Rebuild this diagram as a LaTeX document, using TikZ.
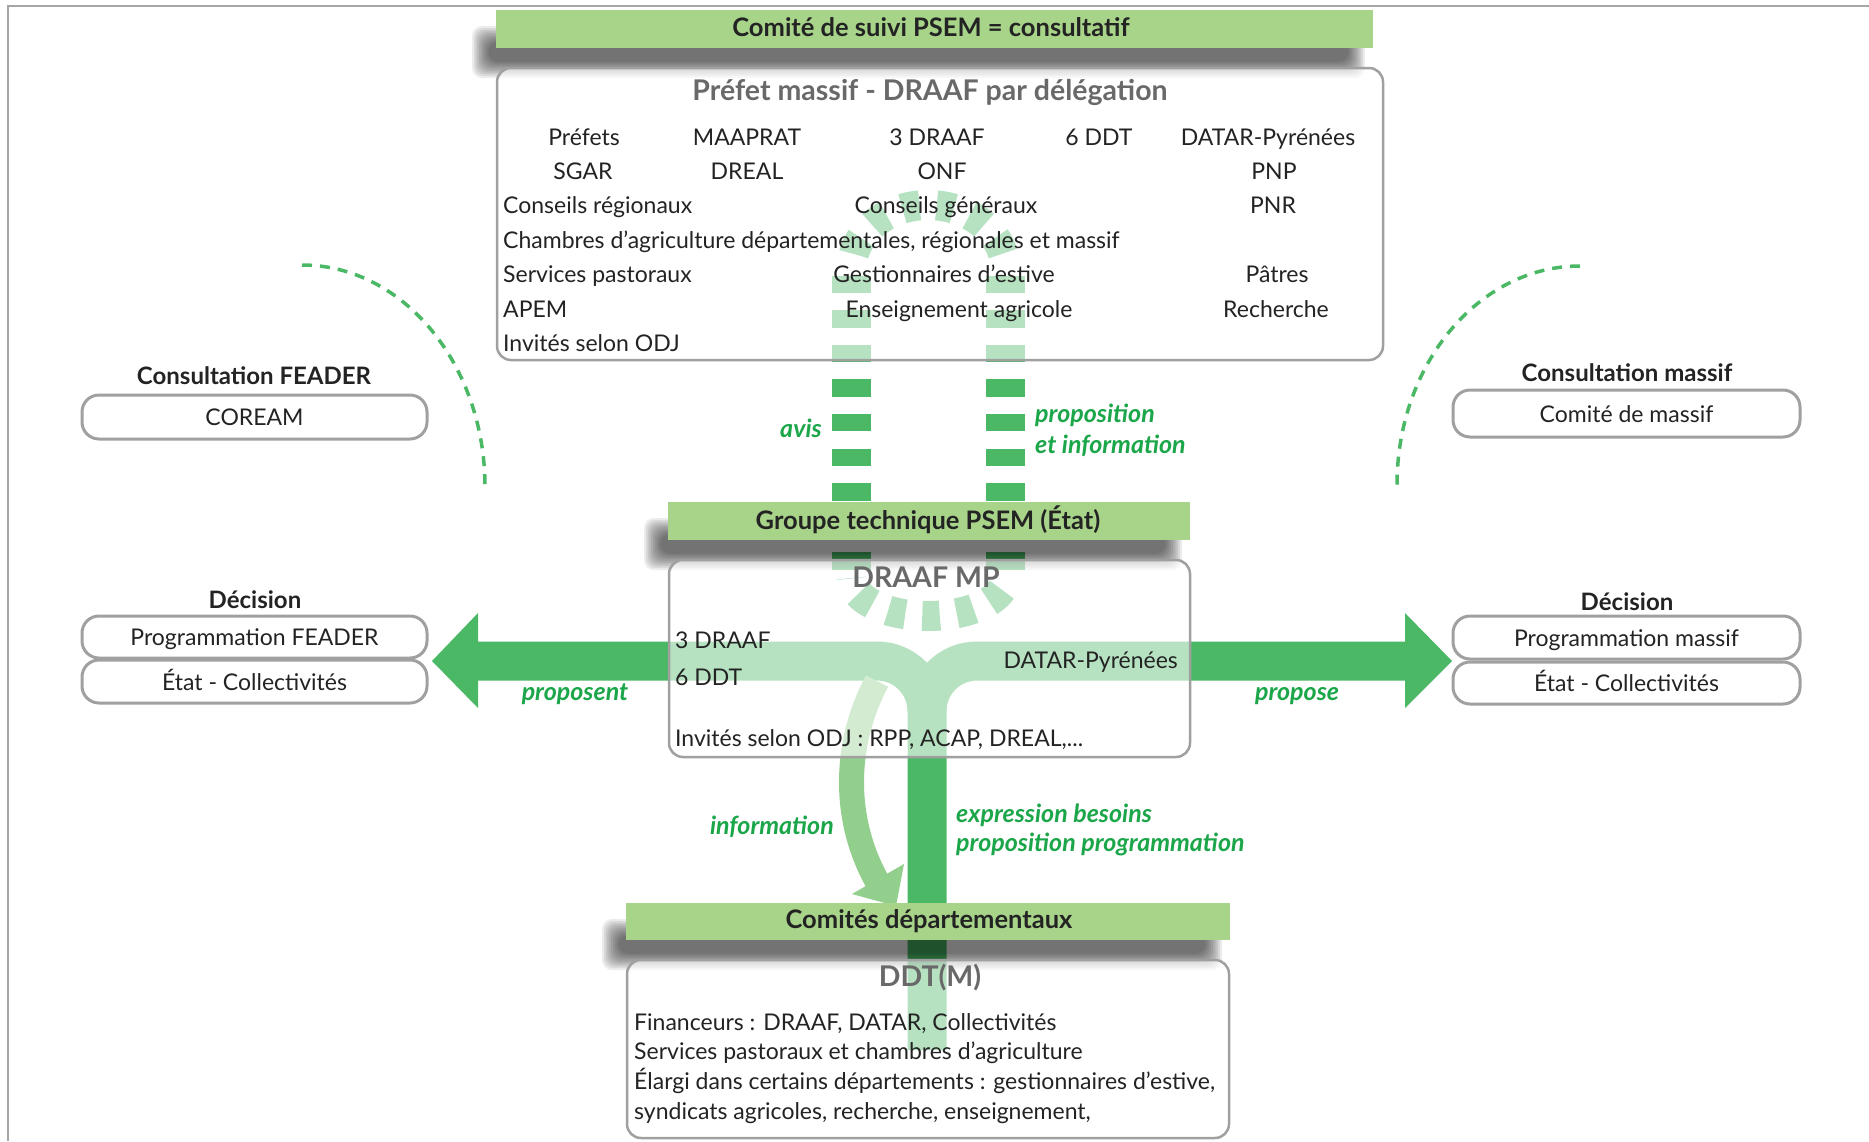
\documentclass[tikz,border=0pt]{standalone}
\usepackage{fontspec}
\setmainfont{Lato}
\definecolor{bargreen}{RGB}{168,212,138}
\definecolor{dgreen}{RGB}{74,184,101}
\definecolor{igreen}{RGB}{146,206,140}
\definecolor{lblgreen}{RGB}{28,166,74}
\definecolor{boxgray}{RGB}{160,160,160}
\definecolor{titlegray}{RGB}{105,105,105}
\definecolor{txtcol}{RGB}{35,35,35}
\newcommand{\blurshadow}[4]{%
  \foreach \i in {0,...,9}{\fill[black,opacity=0.075,rounded corners=10pt] (#1+1.8*\i,#2+1.8*\i) rectangle (#3-1.8*\i,#4-1.8*\i);}}
\begin{document}
\begin{tikzpicture}[x=1pt,y=-1pt,
  txt/.style={font=\fontsize{23pt}{26pt}\selectfont, text=txtcol, inner sep=0pt, anchor=mid, yshift=-6pt},
  ltxt/.style={txt, anchor=mid west},
  rtxt/.style={txt, anchor=mid east},
  bartxt/.style={font=\fontsize{25.5pt}{28pt}\selectfont\bfseries, text=txtcol, inner sep=0pt, anchor=mid, yshift=-6pt},
  head/.style={font=\fontsize{24pt}{27pt}\selectfont\bfseries, text=txtcol, inner sep=0pt, anchor=mid, yshift=-6pt},
  boxtitle/.style={font=\fontsize{28.5pt}{31pt}\selectfont\bfseries, text=titlegray, inner sep=0pt, anchor=mid, yshift=-7pt},
  lbl/.style={font=\fontsize{25pt}{28pt}\selectfont\bfseries\itshape, text=lblgreen, inner sep=0pt, anchor=mid, yshift=-5pt},
  bigbox/.style={draw=boxgray, line width=2.5pt, fill=white, fill opacity=0.6, rounded corners=14pt},
  pill/.style={draw=boxgray, line width=3pt, fill=white, rounded corners=17pt},
  bar/.style={fill=bargreen},
  thin dash/.style={draw=dgreen, line width=3.5pt, dash pattern=on 10pt off 8pt},
]
\useasboundingbox (0,0) rectangle (1869,1141);
\fill[white] (0,0) rectangle (1869,1141);
% frame
\draw[line width=2pt, color=black!35] (8,1141) -- (8,5.5) -- (1869,5.5);

% ---- dashed loop (columns + arches)
\foreach \k in {0,...,8}{
  \fill[dgreen] (832,275.5+34.6*\k) rectangle (871,293+34.6*\k);
  \fill[dgreen] (986,275.5+34.6*\k) rectangle (1025,293+34.6*\k);
}
\draw[dgreen, line width=30pt, dash pattern=on 17.5pt off 17.1pt, dash phase=17.05pt]
  (851.5,578) .. controls (851.5,599) and (885.5,616) .. (928,616)
  .. controls (970.5,616) and (1005.5,599) .. (1005.5,578);
\draw[dgreen, line width=30pt, dash pattern=on 17.5pt off 17.1pt, dash phase=17.85pt]
  (1005.5,270) .. controls (1005.5,234) and (970.5,205) .. (928,205)
  .. controls (885.5,205) and (851.5,234) .. (851.5,270);

% ---- trunk and horizontal arrows
\coordinate (trunkbot) at (927,1050);
\coordinate (junction) at (927,711);
\coordinate (lefthead) at (478,661);
\coordinate (righthead) at (1405,661);
\draw[dgreen, line width=39pt] (trunkbot) -- (junction) .. controls (927,683.4) and (904.6,661) .. (877,661) -- (lefthead);
\draw[dgreen, line width=39pt] (junction) .. controls (927,683.4) and (949.4,661) .. (977,661) -- (righthead);
\fill[dgreen] (478,613) -- (432,661) -- (478,708) -- cycle;
\fill[dgreen] (1405,613) -- (1452,661) -- (1405,708) -- cycle;

% ---- information arrow
\coordinate (infostart) at (877,681);
\coordinate (infoend) at (877,881);
\draw[igreen, line width=25pt] (infostart) .. controls (843,745) and (843,820) .. (infoend);
\fill[igreen] (852,894) -- (904,864) -- (896,906) -- cycle;

% ---- shadows
\blurshadow{472}{26}{1365}{78}
\blurshadow{644}{518}{1182}{570}
\blurshadow{602}{919}{1222}{970}

% ---- boxes
\draw[bigbox] (497,68) rectangle (1383,360);
\draw[bigbox] (669,560) rectangle (1190,757);
\draw[bigbox] (627,960) rectangle (1229,1138);

% ---- bars
\fill[bar] (496,10) rectangle (1373,48);
\node[bartxt] (suivi) at (931,28) {Comité de suivi PSEM = consultatif};
\fill[bar] (668,502) rectangle (1190,540);
\node[bartxt] (groupe) at (928,521) {Groupe technique PSEM (État)};
\fill[bar] (626,903) rectangle (1230,940);
\node[bartxt] (comites) at (929,920) {Comités départementaux};

% ---- top box text
\node[boxtitle] (prefet) at (930,91) {Préfet massif - DRAAF par délégation};
\node[txt] (t11) at (584,137) {Préfets};
\node[txt] (t12) at (747,137) {MAAPRAT};
\node[txt] (t13) at (937,137) {3 DRAAF};
\node[txt] (t14) at (1099,137) {6 DDT};
\node[txt] (t15) at (1268,137) {DATAR-Pyrénées};
\node[txt] (t21) at (583,171) {SGAR};
\node[txt] (t22) at (747,171) {DREAL};
\node[txt] (t23) at (942,171) {ONF};
\node[txt] (t25) at (1274,171) {PNP};
\node[ltxt] (t31) at (503,205) {Conseils régionaux};
\node[txt] (t33) at (946,205) {Conseils généraux};
\node[txt] (t35) at (1273,205) {PNR};
\node[ltxt] (t41) at (503,240) {Chambres d'agriculture départementales, régionales et massif};
\node[ltxt] (t51) at (503,274) {Services pastoraux};
\node[txt] (t53) at (944,274) {Gestionnaires d'estive};
\node[txt] (t55) at (1277,274) {Pâtres};
\node[ltxt] (t61) at (503,309) {APEM};
\node[txt] (t63) at (959,309) {Enseignement agricole};
\node[txt] (t65) at (1276,309) {Recherche};
\node[ltxt] (t71) at (503,343) {Invités selon ODJ};

% ---- DRAAF MP box text
\node[boxtitle] (draafmp) at (926,578) {DRAAF MP};
\node[ltxt] (d1) at (675,640) {3 DRAAF};
\node[ltxt] (d2) at (675,677) {6 DDT};
\node[rtxt] (d3) at (1178,660) {DATAR-Pyrénées};
\node[ltxt] (d4) at (675,738) {Invités selon ODJ : RPP, ACAP, DREAL,...};

% ---- DDT box text
\node[boxtitle] (ddtm) at (930,977) {DDT(M)};
\node[ltxt] (m1) at (634,1021.5) {Financeurs : DRAAF, DATAR, Collectivités};
\node[ltxt] (m2) at (634,1051) {Services pastoraux et chambres d'agriculture};
\node[ltxt] (m3) at (634,1081) {Élargi dans certains départements : gestionnaires d'estive,};
\node[ltxt] (m4) at (634,1111) {syndicats agricoles, recherche, enseignement,};

% ---- labels
\node[lbl, anchor=mid east] (avis) at (822,430) {avis};
\node[lbl, anchor=mid west] (prop1) at (1035,415) {proposition};
\node[lbl, anchor=mid west] (prop2) at (1035,446) {et information};
\node[lbl, anchor=mid east] (info) at (834,827) {information};
\node[lbl, anchor=mid west] (expr1) at (956,815) {expression besoins};
\node[lbl, anchor=mid west] (expr2) at (956,844) {proposition programmation};
\node[lbl] (proposent) at (575,693) {proposent};
\node[lbl] (propose) at (1297,693) {propose};

% ---- left side
\draw[thin dash] (302,265) .. controls (403.1,265) and (485,364.4) .. (485,487);
\node[head] (consF) at (254,376) {Consultation FEADER};
\draw[pill] (82,395) rectangle (427,439);
\node[txt] (coream) at (254.5,417) {COREAM};
\node[head] (decL) at (255,600) {Décision};
\draw[pill] (82,616) rectangle (427,658);
\node[txt] (progF) at (254.5,637) {Programmation FEADER};
\draw[pill] (82,660) rectangle (427,703);
\node[txt] (etatL) at (254.5,681.5) {État - Collectivités};

% ---- right side
\draw[thin dash] (1580,266) .. controls (1478.9,266) and (1397,364) .. (1397,485);
\node[head] (consM) at (1627,373) {Consultation massif};
\draw[pill] (1453,390) rectangle (1800,437);
\node[txt] (comm) at (1626.5,413.5) {Comité de massif};
\node[head] (decR) at (1627,602) {Décision};
\draw[pill] (1453,616) rectangle (1800,659);
\node[txt] (progM) at (1626.5,637.5) {Programmation massif};
\draw[pill] (1453,662) rectangle (1800,704);
\node[txt] (etatR) at (1626.5,683) {État - Collectivités};
\end{tikzpicture}
\end{document}
